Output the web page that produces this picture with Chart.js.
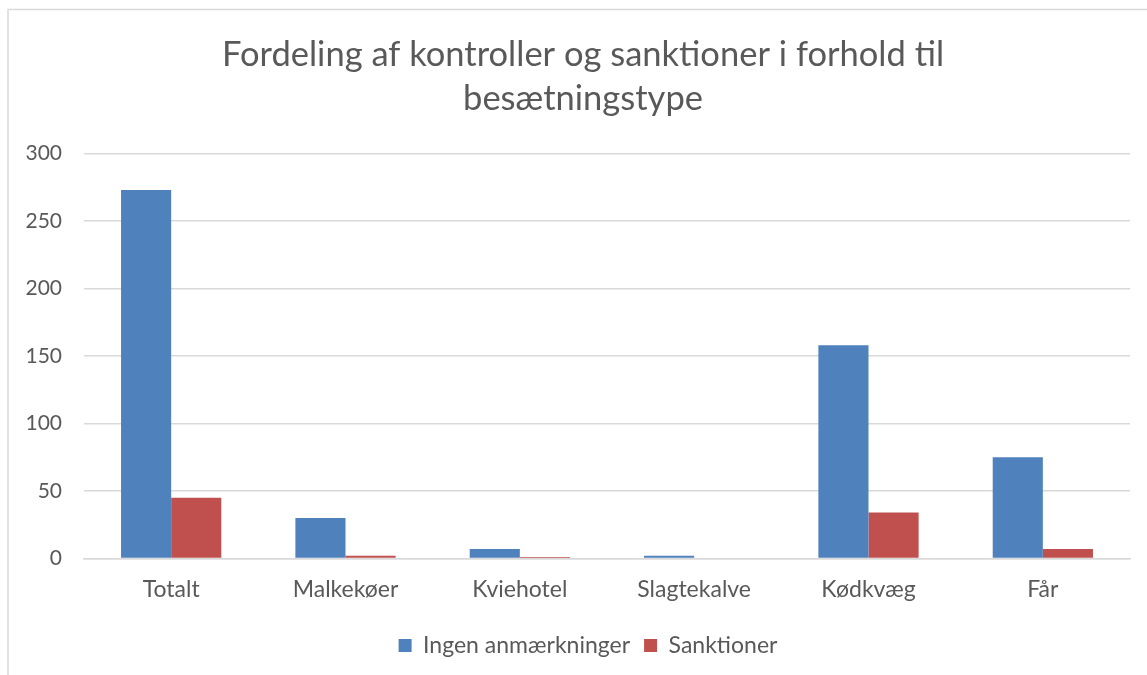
<!DOCTYPE html>
<html>
<head>
<meta charset="utf-8">
<script src="https://cdn.jsdelivr.net/npm/chart.js@4/dist/chart.umd.min.js"></script>
<style>
html,body{margin:0;padding:0;background:#fff;}
#wrap{width:1147px;height:675px;position:relative;}
</style>
</head>
<body>
<div id="wrap"><canvas id="c" width="1147" height="675"></canvas></div>
<script>
const categories = ["Totalt", "Malkekøer", "Kviehotel", "Slagtekalve", "Kødkvæg", "Får"];
const ingenAnmaerkninger = [273, 30, 7, 2, 158, 75];
const sanktioner = [45, 2, 1, 0, 34, 7];
const yTicks = [0, 50, 100, 150, 200, 250, 300];
const titleLines = ["Fordeling af kontroller og sanktioner i forhold til", "besætningstype"];

const FONT = "Lato, 'Noto Sans', sans-serif";
const TXT = "#595959";

const framePlugin = {
  id: 'frame',
  afterLayout(chart) {
    if (chart.titleBlock) chart.titleBlock.left = 36;
    if (chart.legend) chart.legend.left = 46;
  },
  beforeDraw(chart) {
    const ctx = chart.ctx;
    ctx.save();
    ctx.fillStyle = '#ffffff';
    ctx.fillRect(0, 0, chart.width, chart.height);
    ctx.strokeStyle = '#d9d9d9';
    ctx.lineWidth = 1.5;
    ctx.beginPath();
    ctx.moveTo(8, chart.height);
    ctx.lineTo(8, 9.5);
    ctx.lineTo(chart.width, 9.5);
    ctx.stroke();
    ctx.restore();
  }
};

new Chart(document.getElementById('c'), {
  type: 'bar',
  data: {
    labels: categories,
    datasets: [
      { label: "Ingen anmærkninger", data: ingenAnmaerkninger, backgroundColor: "#4F81BD", borderWidth: 0 },
      { label: "Sanktioner", data: sanktioner, backgroundColor: "#C0504D", borderWidth: 0 }
    ]
  },
  options: {
    responsive: false,
    animation: false,
    devicePixelRatio: 1,
    layout: { padding: { left: 0, right: 17, top: 0, bottom: 8 } },
    datasets: { bar: { barPercentage: 1.0, categoryPercentage: 0.575 } },
    plugins: {
      title: {
        display: true,
        text: titleLines,
        color: TXT,
        font: { family: FONT, size: 34.5, weight: 'normal', lineHeight: 1.3 },
        padding: { top: 32, bottom: 32 }
      },
      legend: {
        display: true,
        position: 'bottom',
        labels: {
          color: TXT,
          font: { family: FONT, size: 23 },
          boxWidth: 13,
          boxHeight: 13,
          padding: 14
        }
      },
      tooltip: { enabled: false }
    },
    scales: {
      x: {
        grid: { display: false, drawTicks: false },
        border: { display: true, color: '#d9d9d9', width: 1.5 },
        ticks: { color: TXT, font: { family: FONT, size: 23 }, padding: 17, maxRotation: 0 }
      },
      y: {
        min: 0, max: 300,
        afterFit(scale) { scale.width = 84; },
        afterBuildTicks(scale) { scale.ticks = yTicks.map(v => ({ value: v })); },
        grid: { color: '#d9d9d9', lineWidth: 1.5, drawTicks: false },
        border: { display: false },
        ticks: { color: TXT, font: { family: FONT, size: 21 }, padding: 22 }
      }
    }
  },
  plugins: [framePlugin]
});
</script>
</body>
</html>
